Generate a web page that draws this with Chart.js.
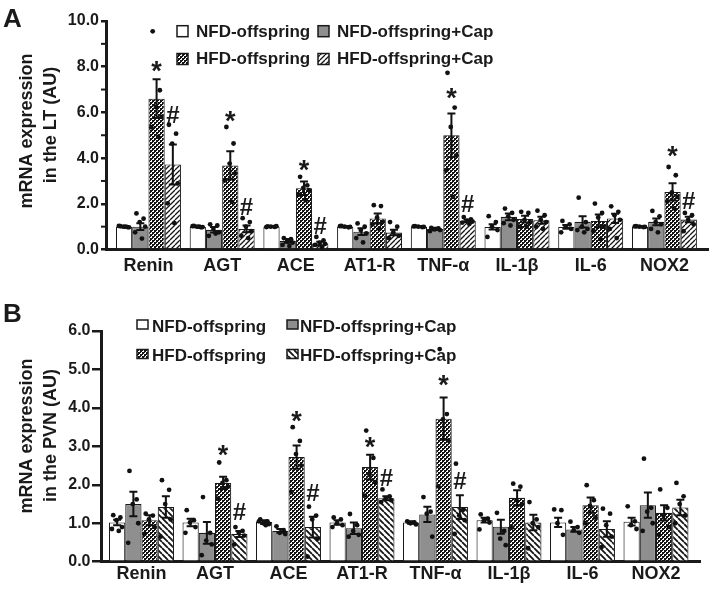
<!DOCTYPE html>
<html><head><meta charset="utf-8">
<script src="https://cdn.jsdelivr.net/npm/chart.js@4.4.1/dist/chart.umd.min.js"></script>
<style>
html,body{margin:0;padding:0;background:#fff;}
canvas{display:block;}
</style></head><body>
<canvas id="cA" width="709" height="290"></canvas>
<canvas id="cB" width="709" height="300"></canvas>
<script>
const categories = ['Renin','AGT','ACE','AT1-R','TNF-\u03b1','IL-1\u03b2','IL-6','NOX2'];
const seriesLabels = ['NFD-offspring','NFD-offspring+Cap','HFD-offspring','HFD-offspring+Cap'];

// ---------- Panel A (LT) ----------
const A_nfd     = [1.00, 1.00, 1.00, 1.00, 1.00, 0.99, 0.99, 1.00];
const A_nfdCap  = [1.00, 0.86, 0.38, 0.78, 0.90, 1.43, 1.21, 1.21];
const A_hfd     = [6.60, 3.68, 2.68, 1.36, 5.00, 1.33, 1.25, 2.52];
const A_hfdCap  = [3.72, 0.90, 0.26, 0.74, 1.25, 1.28, 1.36, 1.31];
const A_nfdSem    = [0.03, 0.03, 0.02, 0.03, 0.02, 0.12, 0.08, 0.03];
const A_nfdCapSem = [0.15, 0.12, 0.08, 0.15, 0.05, 0.15, 0.25, 0.15];
const A_hfdSem    = [0.85, 0.62, 0.30, 0.22, 0.95, 0.15, 0.28, 0.38];
const A_hfdCapSem = [0.88, 0.15, 0.08, 0.12, 0.05, 0.15, 0.20, 0.12];
const A_nfdPts = [[1.02,0.98,1.0,0.97,1.03,1.0],[1.03,0.97,1.0,0.98,1.02,1.0],[1.01,0.99,1.0,1.02,0.98],[1.03,0.97,1.0,0.99,1.02],[1.02,0.98,1.0,0.99,1.01],[1.46,1.2,1.0,0.85,0.55],[1.25,1.1,1.0,0.9,0.75],[1.02,0.98,1.0,0.99,1.01]];
const A_nfdCapPts = [[1.58,1.35,1.2,1.0,0.75,0.48],[1.1,1.05,0.9,0.75,0.6,0.7],[0.5,0.45,0.35,0.3,0.2,0.15],[1.14,1.0,0.85,0.7,0.5,0.31],[0.95,0.92,0.88,0.85,0.8],[1.79,1.6,1.45,1.3,1.15,1.05],[2.27,1.2,1.0,0.9,0.85,0.75],[1.69,1.45,1.2,1.1,0.9,0.75]];
const A_hfdPts = [[9.55,6.97,6.24,5.8,5.35,4.93],[5.36,4.64,3.76,3.33,3.03,2.08],[3.18,2.81,2.7,2.6,2.4,2.16],[1.94,1.9,1.4,1.2,1.1,0.9],[7.73,6.21,5.36,4.12,3.47,2.3],[1.65,1.6,1.3,1.2,1.0,1.0],[2.01,1.6,1.4,1.0,0.8,0.45],[3.61,3.25,2.5,2.3,2.1,1.8]];
const A_hfdCapPts = [[5.46,5.07,4.63,2.89,2.02,1.15],[1.37,1.2,1.0,0.8,0.6,0.5],[0.55,0.4,0.3,0.25,0.2,0.1],[1.2,1.0,0.75,0.6,0.5],[1.42,1.32,1.26,1.22,1.18,1.12],[1.7,1.5,1.3,1.2,1.0,0.9],[1.89,1.65,1.5,1.3,0.9,0.5],[1.6,1.5,1.3,1.1,0.8]];
// [category index, series index, symbol, value]
const A_marks = [[0,2,'*',8.0],[0,3,'#',5.9],[1,2,'*',5.83],[1,3,'#',1.86],[2,2,'*',3.68],[2,3,'#',1.03],[4,2,'*',6.84],[4,3,'#',2.02],[7,2,'*',4.27],[7,3,'#',2.16]];

// ---------- Panel B (PVN) ----------
const B_nfd     = [1.02, 1.02, 1.03, 1.02, 1.02, 1.08, 1.02, 1.04];
const B_nfdCap  = [1.50, 0.75, 0.80, 0.87, 1.23, 0.91, 0.84, 1.47];
const B_hfd     = [1.08, 2.05, 2.72, 2.46, 3.72, 1.66, 1.47, 1.27];
const B_hfdCap  = [1.42, 0.72, 0.90, 1.65, 1.42, 1.02, 0.85, 1.41];
const B_nfdSem    = [0.07, 0.10, 0.05, 0.06, 0.03, 0.06, 0.12, 0.10];
const B_nfdCapSem = [0.32, 0.28, 0.05, 0.15, 0.20, 0.18, 0.06, 0.33];
const B_hfdSem    = [0.13, 0.16, 0.30, 0.32, 0.55, 0.20, 0.20, 0.20];
const B_hfdCapSem = [0.28, 0.08, 0.27, 0.05, 0.31, 0.20, 0.20, 0.20];
const B_nfdPts = [[1.21,1.15,1.08,0.9,0.85,0.8],[1.34,1.08,1.02,0.9,0.75],[1.1,1.05,1.0,0.98,1.05,0.95],[1.15,1.1,1.0,0.95,0.9],[1.05,1.02,1.0,0.97],[1.23,1.12,1.08,1.02,0.84],[1.36,1.34,1.0,0.7],[1.44,1.05,0.95,0.85]];
const B_nfdCapPts = [[2.36,1.62,1.5,1.0,0.49],[1.68,0.75,0.55,0.45,0.17],[0.92,0.82,0.75,0.72],[1.24,0.95,0.8,0.7,0.65],[1.68,1.3,1.25,0.65],[1.27,0.8,0.6,0.43],[1.04,0.9,0.82,0.75],[2.68,1.4,1.3,1.0,0.8]];
const B_hfdPts = [[1.25,1.2,1.1,0.9,0.72],[2.58,2.12,2.05,1.95,1.64],[3.5,3.14,2.8,2.5,1.81],[3.41,2.7,2.27,2.07,1.72],[5.53,3.84,3.7,3.15,1.96],[2.03,1.95,1.6,1.5,0.89],[1.99,1.6,1.45,1.15,1.0],[1.88,1.4,1.2,0.9,0.7]];
const B_hfdCapPts = [[2.12,1.87,1.5,1.1,0.65],[0.9,0.8,0.75,0.68,0.45],[1.43,1.2,1.1,0.6,0.13],[1.88,1.7,1.65,1.6,1.55],[2.55,1.35,1.2,1.08,0.72],[1.55,1.1,1.0,0.9,0.35],[1.38,1.25,0.95,0.65,0.38],[2.05,1.7,1.5,1.2,1.0]];
const B_marks = [[1,2,'*',2.9],[1,3,'#',1.3],[2,2,'*',3.78],[2,3,'#',1.79],[3,2,'*',3.11],[3,3,'#',2.2],[4,2,'*',4.71],[4,3,'#',2.12]];

const FONT = "'Liberation Sans', Arial, Helvetica, sans-serif";
const INK = '#1a1a1a';
const GRAY = '#8f8f8f';

function tile(size, draw){
  const c = document.createElement('canvas'); c.width = c.height = size;
  const g = c.getContext('2d'); g.fillStyle = '#fff'; g.fillRect(0,0,size,size);
  draw(g, size);
  return g.createPattern(c, 'repeat');
}
function checker(){
  return tile(4, (g)=>{ g.fillStyle = '#151515'; g.fillRect(0,0,2,2); g.fillRect(2,2,2,2); g.fillRect(2,0,1,1); g.fillRect(0,2,1,1); });
}
function hatch(size, lw, forward){
  return tile(size, (g,s)=>{
    g.strokeStyle = '#151515'; g.lineWidth = lw; g.beginPath();
    for (let o = -s; o <= s; o += s){
      if (forward){ g.moveTo(o, s); g.lineTo(o + s, 0); }
      else { g.moveTo(o, 0); g.lineTo(o + s, s); }
    }
    g.stroke();
  });
}

const JIT = [-0.24, 0.2, -0.04, 0.3, -0.32, 0.1, 0.02];

function panelPlugin(P){
  return {
    id: 'panel' + P.letter,
    afterDatasetsDraw(chart){
      const ctx = chart.ctx, ys = chart.scales.y;
      ctx.save(); ctx.strokeStyle = '#111'; ctx.lineWidth = 2;
      P.means.forEach((m,k)=>{
        const meta = chart.getDatasetMeta(k);
        m.forEach((v,i)=>{
          const el = meta.data[i]; const s = P.sems[k][i];
          const yt = ys.getPixelForValue(v + s), yb = ys.getPixelForValue(Math.max(0, v - s));
          const x = el.x, cw = 4;
          ctx.beginPath();
          ctx.moveTo(x, yb); ctx.lineTo(x, yt);
          ctx.moveTo(x - cw, yt); ctx.lineTo(x + cw, yt);
          ctx.moveTo(x - cw, yb); ctx.lineTo(x + cw, yb);
          ctx.stroke();
        });
      });
      ctx.restore();
    },
    afterDraw(chart){
      const ctx = chart.ctx, ys = chart.scales.y, area = chart.chartArea;
      ctx.save();
      if (P.minor){
        ctx.strokeStyle = INK; ctx.lineWidth = 2;
        P.minor.forEach(v=>{
          const y = ys.getPixelForValue(v);
          ctx.beginPath(); ctx.moveTo(area.left, y); ctx.lineTo(area.left - 5, y); ctx.stroke();
        });
      }
      // significance marks
      ctx.fillStyle = INK; ctx.textAlign = 'center'; ctx.textBaseline = 'alphabetic';
      P.marks.forEach(([i,k,sym,val])=>{
        const el = chart.getDatasetMeta(k).data[i];
        const size = sym === '*' ? P.starSize : P.hashSize;
        ctx.font = 'bold ' + size + 'px ' + FONT;
        const m = ctx.measureText(sym);
        const y = ys.getPixelForValue(val);
        const base = y + (m.actualBoundingBoxAscent - m.actualBoundingBoxDescent) / 2;
        ctx.fillText(sym, el.x, base);
      });
      // legend
      ctx.textAlign = 'left';
      ctx.font = 'bold ' + P.leg.size + 'px ' + FONT;
      seriesLabels.forEach((lab,k)=>{
        const col = k % 2, row = Math.floor(k / 2);
        const bx = P.leg.boxX[col], by = P.leg.boxTop[row];
        ctx.fillStyle = P.fills[k]; ctx.fillRect(bx, by, P.leg.bw, P.leg.bh);
        ctx.strokeStyle = INK; ctx.lineWidth = 1.5; ctx.strokeRect(bx, by, P.leg.bw, P.leg.bh);
        ctx.fillStyle = INK; ctx.fillText(lab, P.leg.textX[col], P.leg.base[row]);
      });
      // y title
      ctx.font = 'bold 18px ' + FONT; ctx.textAlign = 'center';
      P.title.forEach((t,n)=>{
        ctx.save(); ctx.translate(P.titleX[n], P.titleY[n]); ctx.rotate(-Math.PI/2);
        ctx.fillText(t, 0, 0); ctx.restore();
      });
      // panel letter
      ctx.font = 'bold 26px ' + FONT; ctx.textAlign = 'left';
      ctx.fillText(P.letter, 3, P.letterY);
      ctx.restore();
    }
  };
}

function makeChart(id, P){
  const canvas = document.getElementById(id);
  const bw = P.catPct / 4;
  const datasets = [];
  P.means.forEach((m,k)=>{
    datasets.push({
      type: 'bar', label: seriesLabels[k], data: m.map((v,i)=>({x:i, y:v})),
      backgroundColor: P.fills[k], borderColor: INK, borderWidth: 1.1,
      categoryPercentage: P.catPct, barPercentage: 1, order: 2
    });
  });
  P.points.forEach((arr,k)=>{
    const d = [];
    arr.forEach((vals,i)=>vals.forEach((v,j)=>d.push({x: i + (k - 1.5) * bw + JIT[j % JIT.length] * bw, y: v})));
    datasets.push({
      type: 'scatter', label: seriesLabels[k] + ' (individual)', data: d,
      backgroundColor: '#111', borderColor: '#111',
      pointRadius: 2.4, pointBackgroundColor: '#111', pointBorderColor: '#111', pointBorderWidth: 0,
      showLine: false, order: 0
    });
  });
  return new Chart(canvas, {
    type: 'bar',
    data: { datasets },
    options: {
      responsive: false, animation: false, events: [],
      layout: { autoPadding: false, padding: { top: P.top, right: P.right, bottom: 0, left: 0 } },
      plugins: { legend: { display: false }, tooltip: { enabled: false } },
      scales: {
        x: {
          type: 'linear', min: P.xmin, max: P.xmax, offset: false,
          afterBuildTicks: s => { s.ticks = categories.map((c,i)=>({value: i})); },
          afterFit: s => { s.height = P.xh; s.paddingLeft = 0; s.paddingRight = 0; },
          ticks: { callback: (v,i)=>categories[i], font: { size: 18, weight: 'bold', family: FONT }, color: INK,
                   padding: P.xpad, autoSkip: false, maxRotation: 0, minRotation: 0 },
          grid: { display: false, drawTicks: false },
          border: { display: true, width: 3, color: INK }
        },
        y: {
          min: 0, max: P.ymax,
          afterFit: s => { s.width = P.yw; },
          ticks: { stepSize: P.step, callback: v => v.toFixed(1), font: { size: 16, weight: 'bold', family: FONT },
                   color: INK, padding: P.ypad },
          grid: { drawOnChartArea: false, tickLength: P.tl, lineWidth: 2.5, color: INK },
          border: { display: true, width: 3, color: INK }
        }
      }
    },
    plugins: [panelPlugin(P)]
  });
}

makeChart('cA', {
  letter: 'A', letterY: 27,
  means: [A_nfd, A_nfdCap, A_hfd, A_hfdCap],
  sems: [A_nfdSem, A_nfdCapSem, A_hfdSem, A_hfdCapSem],
  points: [A_nfdPts, A_nfdCapPts, A_hfdPts, A_hfdCapPts],
  marks: A_marks,
  fills: ['#ffffff', GRAY, checker(), hatch(5, 1.3, true)],
  catPct: 0.882, xmin: -0.576, xmax: 7.605, ymax: 10, step: 2, minor: [1,3,5,7,9],
  top: 21, right: 0, xh: 40.5, yw: 106, tl: 5, ypad: 2, xpad: 6,
  starSize: 27, hashSize: 24,
  leg: { size: 17, boxX: [177, 318], textX: [196, 337], boxTop: [25.7, 53.5], base: [36.7, 64.3], bw: 11, bh: 11 },
  title: ['mRNA expression', 'in the LT (AU)'], titleX: [32, 56], titleY: [131, 125]
});

makeChart('cB', {
  letter: 'B', letterY: 31.7,
  means: [B_nfd, B_nfdCap, B_hfd, B_hfdCap],
  sems: [B_nfdSem, B_nfdCapSem, B_hfdSem, B_hfdCapSem],
  points: [B_nfdPts, B_nfdCapPts, B_hfdPts, B_hfdCapPts],
  marks: B_marks,
  fills: ['#ffffff', GRAY, checker(), hatch(6, 1.8, false)],
  catPct: 0.884, xmin: -0.551, xmax: 7.599, ymax: 6, step: 1, minor: null,
  top: 41, right: 9, xh: 28.3, yw: 101, tl: 9, ypad: 1.5, xpad: 1.5,
  starSize: 27, hashSize: 24,
  leg: { size: 17, boxX: [137, 287], textX: [152, 300], boxTop: [30, 59.5], base: [41.7, 71], bw: 11, bh: 9 },
  title: ['mRNA expression', 'in the PVN (AU)'], titleX: [32, 56], titleY: [146, 145.5]
});
</script>
</body></html>
